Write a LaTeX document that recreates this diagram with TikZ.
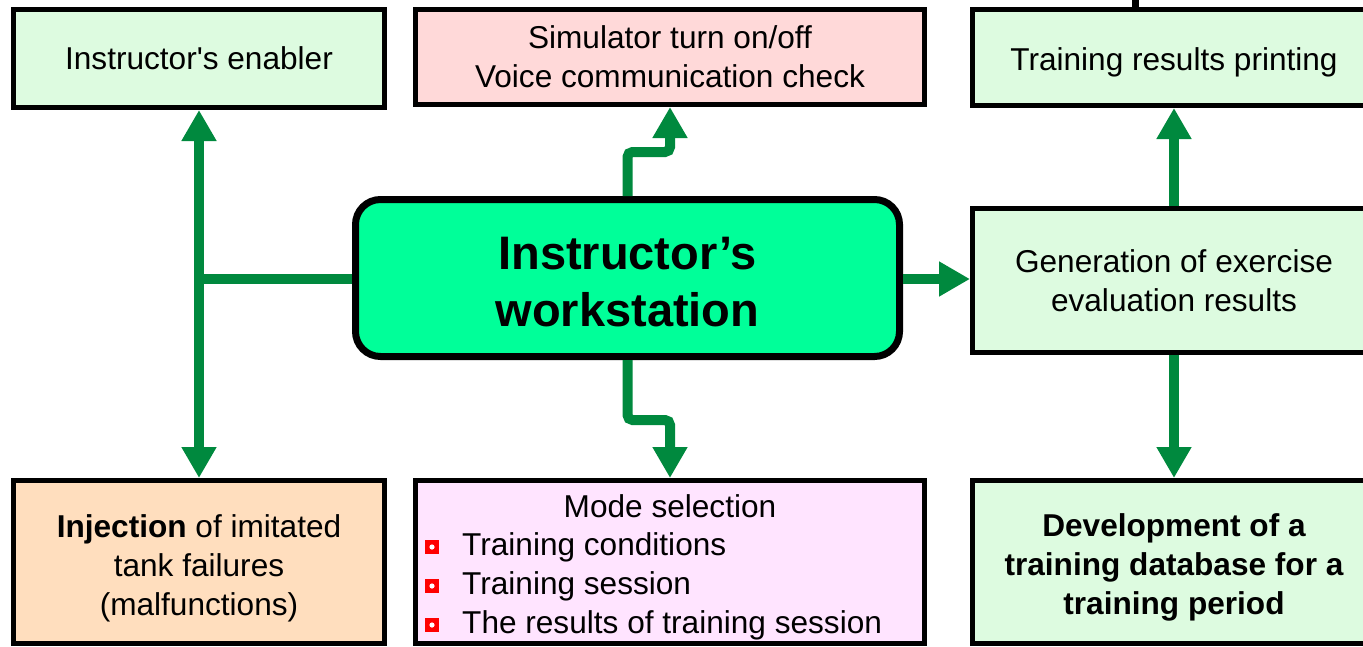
\documentclass[tikz,border=0pt]{standalone}
\usepackage{fontspec}
\setmainfont{Liberation Sans}
\usetikzlibrary{arrows.meta}
\definecolor{mint}{RGB}{221,251,224}
\definecolor{pinkfill}{RGB}{255,217,217}
\definecolor{wsfill}{RGB}{0,255,153}
\definecolor{peach}{RGB}{255,222,190}
\definecolor{lav}{RGB}{255,228,255}
\definecolor{agreen}{RGB}{0,137,62}
\begin{document}
\begin{tikzpicture}[x=1pt,y=-1pt,
  box/.style={draw=black, line width=5pt, rectangle, inner sep=0pt, align=center,
    font=\fontsize{31.6}{39}\selectfont},
  wsbox/.style={draw=black, line width=7pt, rectangle, rounded corners=25pt, fill=wsfill,
    inner sep=0pt, minimum width=544pt, minimum height=157pt},
  txt/.style={inner sep=0pt, align=center, font=\fontsize{31.6}{39}\selectfont},
  bul/.style={fill=red, draw=none, rectangle, minimum size=14pt, inner sep=0pt,
    path picture={\fill[white] (path picture bounding box.center) circle (2.6pt);}},
  conn/.style={draw=agreen, line width=10pt, rounded corners=5pt},
  tip/.style={-{Triangle[width=33pt,length=31pt]}},
  tips/.style={{Triangle[width=33pt,length=31pt]}-{Triangle[width=33pt,length=31pt]}}
]
\useasboundingbox (0,0) rectangle (1363,646);
\fill[white] (0,0) rectangle (1363,646);

% fragment at top
\fill[black] (1132,0) rectangle (1139,7);

% boxes
\node[box, fill=mint, minimum width=371pt, minimum height=98pt] (enabler) at (199,58.5)
  {Instructor\textquotesingle s enabler};
\node[box, fill=pinkfill, minimum width=509pt, minimum height=95pt] (sim) at (670,57)
  {Simulator turn on/off\\Voice communication check};
\node[box, fill=mint, minimum width=403pt, minimum height=96pt] (print) at (1174,57.5) {};
\node[wsbox] (ws) at (627.5,278) {};
\node[box, fill=mint, minimum width=403pt, minimum height=144pt] (eval) at (1174,280.5)
  {Generation of exercise\\evaluation results};
\node[box, fill=peach, minimum width=371pt, minimum height=163pt] (inject) at (199,562) {};
\node[box, fill=lav, minimum width=509pt, minimum height=163pt] (mode) at (670,562) {};
\node[box, fill=mint, minimum width=403pt, minimum height=163pt] (devel) at (1174,562) {};

% texts
\node[txt, anchor=base] (printt) at (1174,70) {Training results printing};
\node[txt, font=\bfseries\fontsize{47}{57}\selectfont] (wst) at (627.5,282.5) {Instructor’s\\workstation};
\node[txt] (injectt) at (199,568) {\textbf{Injection} of imitated\\tank failures\\(malfunctions)};
\node[txt, font=\bfseries\fontsize{31.6}{39}\selectfont] (develt) at (1174,567)
  {Development of a\\training database for a\\training period};

% mode selection contents
\node[txt, anchor=base] (modet) at (670,517) {Mode selection};
\node[bul] (b1) at (432,547) {};
\node[bul] (b2) at (432,586) {};
\node[bul] (b3) at (432,625) {};
\node[txt, anchor=base west] (l1) at (462,555) {Training conditions};
\node[txt, anchor=base west] (l2) at (462,594) {Training session};
\node[txt, anchor=base west] (l3) at (462,633) {The results of training session};

% connectors
\coordinate (jl) at (enabler.south |- 0,279);
\draw[conn, tips] (enabler.south) -- (inject.north);
\draw[conn] (ws.west |- jl) -- (jl);
\draw[conn, tip] (ws.north) -- (ws.north |- 0,152) -| (sim.south);
\draw[conn, tip] (ws.south) -- (ws.south |- 0,420) -| (mode.north);
\draw[conn, tip] (ws.east |- 0,279) -- (eval.west |- 0,279);
\draw[conn, tip] (eval.north) -- (print.south);
\draw[conn, tip] (eval.south) -- (devel.north);
\end{tikzpicture}
\end{document}
